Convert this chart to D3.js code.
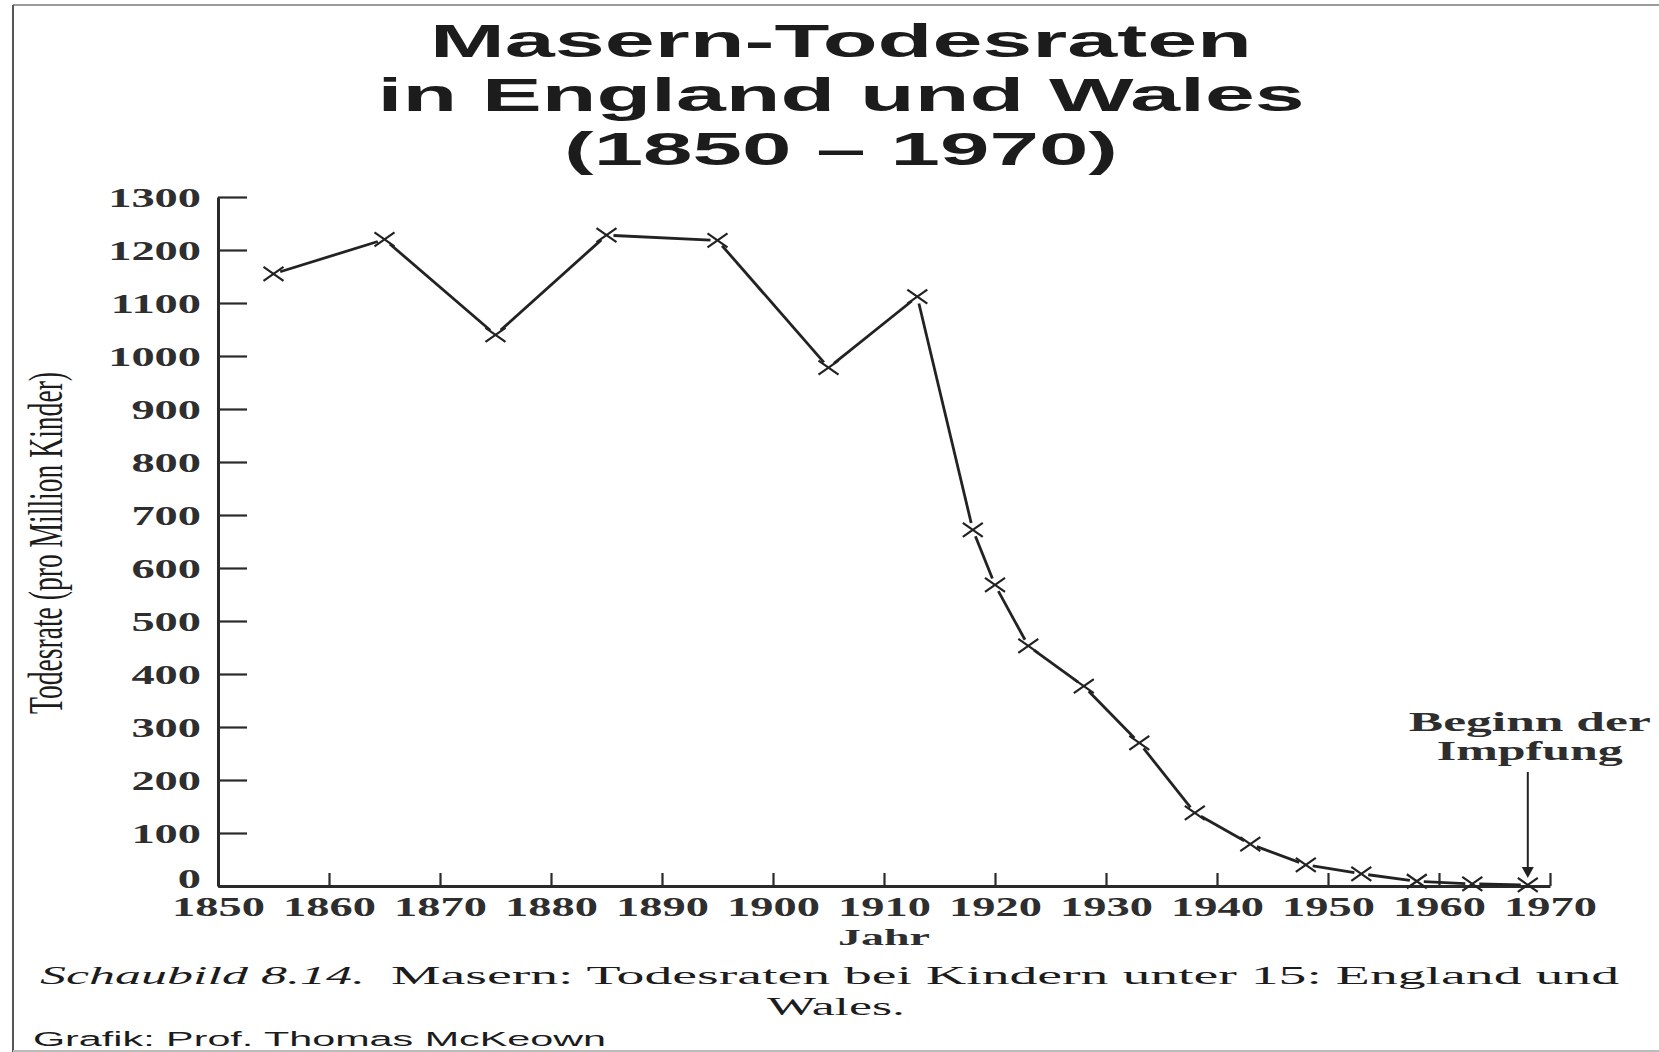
<!DOCTYPE html>
<meta charset="utf-8">
<style>
body { margin: 0; background: #fff; }
svg { display: block; }
.axis text { font-family: "Liberation Serif", serif; font-weight: bold; fill: #2e2e2e; }
</style>
<svg id="chart" width="1659" height="1052"></svg>
<script src="https://d3js.org/d3.v7.min.js"></script>
<script>

// data (McKeown)
var years = [1855, 1865, 1875, 1885, 1895, 1905, 1913, 1918, 1920, 1923, 1928, 1933, 1938, 1943, 1948, 1953, 1958, 1963, 1968];
var rates = [1155, 1220, 1040, 1228, 1218, 978, 1112, 672, 568, 453, 377, 270, 138, 79, 40, 23, 9, 4, 2];
var yearTicks = [1850, 1860, 1870, 1880, 1890, 1900, 1910, 1920, 1930, 1940, 1950, 1960, 1970];
var rateTicks = [0, 100, 200, 300, 400, 500, 600, 700, 800, 900, 1000, 1100, 1200, 1300];
var titleLines = ["Masern-Todesraten", "in England und Wales", "(1850 \u2013 1970)"];
var vaccineYear = 1968;

var svg = d3.select("#chart");
var ink = "#1c1c1c";

var x = d3.scaleLinear().domain([1850, 1970]).range([218, 1550]);
var y = d3.scaleLinear().domain([0, 1300]).range([886, 197]);

// the scan is stretched sideways, so text gets squeezed into measured widths
function stretchText(sel, str, px, py, o) {
  return sel.append("text")
    .attr("x", px).attr("y", py)
    .attr("text-anchor", o.anchor || "middle")
    .attr("font-family", o.family || "Liberation Serif")
    .attr("font-size", o.size)
    .attr("font-weight", o.weight || "normal")
    .attr("font-style", o.style || "normal")
    .attr("textLength", o.width)
    .attr("lengthAdjust", "spacingAndGlyphs")
    .attr("fill", o.fill || ink)
    .text(str);
}

// frame of the screenshot
svg.append("line").attr("x1", 13).attr("x2", 1659).attr("y1", 5).attr("y2", 5).attr("stroke", "#9a9a9a").attr("stroke-width", 2);
svg.append("line").attr("x1", 13).attr("x2", 13).attr("y1", 5).attr("y2", 1052).attr("stroke", "#555").attr("stroke-width", 2);
svg.append("line").attr("x1", 13).attr("x2", 1659).attr("y1", 1051).attr("y2", 1051).attr("stroke", "#bbb").attr("stroke-width", 2);

// title
var titleW = [822, 927, 554];
titleLines.forEach(function(t, i) {
  stretchText(svg, t, 841, 57 + i * 54, {family: "Liberation Sans", size: 46, weight: "bold", width: titleW[i]});
});

// axes
var sx = 1.72;
var yAxis = svg.append("g")
    .attr("class", "axis")
    .attr("transform", "translate(" + x(1850) + ",0)")
    .call(d3.axisLeft(y).tickValues(rateTicks).tickSize(-29).tickSizeOuter(0).tickFormat(d3.format("d")));
yAxis.selectAll("text")
    .attr("font-size", 27)
    .attr("x", -17 / sx)
    .attr("dy", function(d) { return d === 0 ? "0.05em" : "0.34em"; })
    .attr("transform", "scale(" + sx + ",1)");

var xAxis = svg.append("g")
    .attr("class", "axis")
    .attr("transform", "translate(0," + y(0) + ")")
    .call(d3.axisBottom(x).tickValues(yearTicks).tickSize(-13).tickSizeOuter(0).tickFormat(d3.format("d")));
xAxis.selectAll("text")
    .attr("font-size", 28)
    .attr("y", 10)
    .attr("dy", "0.71em")
    .attr("transform", "scale(1.66,1)");

svg.selectAll(".axis .domain").attr("stroke", "#2a2a2a").attr("stroke-width", 3);
svg.selectAll(".axis .tick line").attr("stroke", "#2a2a2a").attr("stroke-width", 2.2);

// axis titles
stretchText(svg, "Jahr", 884, 945, {size: 24, weight: "bold", width: 92, fill: "#2e2e2e"});

svg.append("text")
    .attr("transform", "translate(62,543) scale(1.75,1) rotate(-90)")
    .attr("text-anchor", "middle")
    .attr("font-family", "Liberation Serif")
    .attr("font-size", 28)
    .attr("textLength", 342)
    .attr("lengthAdjust", "spacingAndGlyphs")
    .attr("fill", ink)
    .text("Todesrate (pro Million Kinder)");

// line, broken a little before each cross like in the print
var pts = years.map(function(d, i) { return [x(d), y(rates[i])]; });
var gap = 7;
var segs = d3.pairs(pts).map(function(p) {
  var dx = p[1][0] - p[0][0], dy = p[1][1] - p[0][1];
  var len = Math.sqrt(dx * dx + dy * dy);
  var ux = dx / len, uy = dy / len;
  return [p[0][0] + ux * gap, p[0][1] + uy * gap, p[1][0] - ux * gap, p[1][1] - uy * gap];
});
svg.append("g").selectAll("line")
  .data(segs)
  .enter().append("line")
    .attr("x1", function(d) { return d[0]; })
    .attr("y1", function(d) { return d[1]; })
    .attr("x2", function(d) { return d[2]; })
    .attr("y2", function(d) { return d[3]; })
    .attr("stroke", "#222")
    .attr("stroke-width", 2.8);

svg.append("g").selectAll("path")
  .data(pts)
  .enter().append("path")
    .attr("transform", function(d) { return "translate(" + d[0] + "," + d[1] + ")"; })
    .attr("d", "M-10,-7L10,7M-10,7L10,-7")
    .attr("fill", "none")
    .attr("stroke", "#222")
    .attr("stroke-width", 2.2);

// vaccination note + arrow
var ax = x(vaccineYear);
var tipY = y(rates[years.indexOf(vaccineYear)]) - 7;
stretchText(svg, "Beginn der", ax + 2, 731, {size: 28, weight: "bold", width: 242, fill: "#2e2e2e"});
stretchText(svg, "Impfung", ax + 2, 760, {size: 28, weight: "bold", width: 186, fill: "#2e2e2e"});
svg.append("line")
    .attr("x1", ax).attr("x2", ax)
    .attr("y1", 772).attr("y2", tipY - 8)
    .attr("stroke", "#222").attr("stroke-width", 2);
svg.append("path")
    .attr("d", "M" + (ax - 6) + "," + (tipY - 11) + "L" + (ax + 6) + "," + (tipY - 11) + "L" + ax + "," + tipY + "Z")
    .attr("fill", "#222");

// caption
stretchText(svg, "Schaubild 8.14.", 40, 984, {anchor: "start", size: 26, style: "italic", width: 325});
stretchText(svg, "Masern: Todesraten bei Kindern unter 15: England und", 391, 984, {anchor: "start", size: 26, width: 1228});
stretchText(svg, "Wales.", 836, 1015, {size: 26, width: 138});
stretchText(svg, "Grafik: Prof. Thomas McKeown", 33, 1046, {anchor: "start", family: "Liberation Sans", size: 20, width: 573});

</script>
